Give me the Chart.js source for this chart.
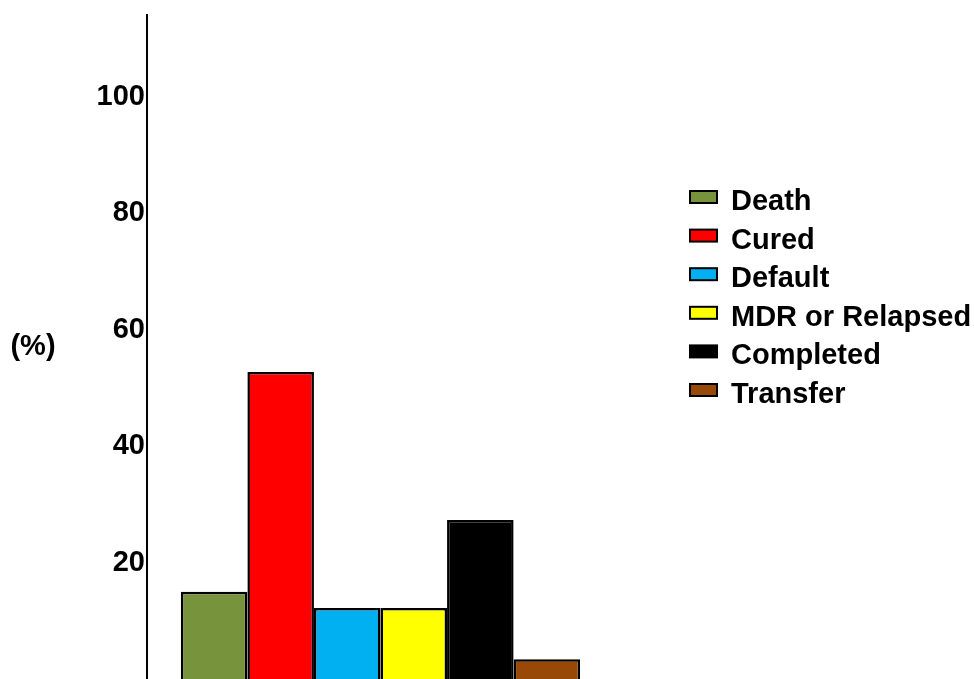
<!DOCTYPE html>
<html>
<head>
<meta charset="utf-8">
<title>Treatment outcomes</title>
<script src="https://cdn.jsdelivr.net/npm/chart.js@4/dist/chart.umd.min.js"></script>
<style>
  html, body { margin: 0; padding: 0; background: #ffffff; overflow: hidden; }
  #wrap { width: 974px; height: 679px; position: relative; }
  canvas { display: block; }
</style>
</head>
<body>
<div id="wrap"><canvas id="outcomeChart" width="974" height="679"></canvas></div>
<script>
// Treatment outcome categories and their share of patients (%)
const outcomes = ['Death', 'Cured', 'Default', 'MDR or Relapsed', 'Completed', 'Transfer'];
const percentages = [15, 52.7, 12.2, 12.2, 27.3, 3.4];
const outcomeColors = ['#77933C', '#FF0000', '#00B0F0', '#FFFF00', '#000000', '#984807'];
const yTicks = [20, 40, 60, 80, 100];
const yUnit = '(%)';

const FONT = '"Liberation Sans", Arial, sans-serif';

// One dataset per outcome so the bars sit side by side in a single group
const datasets = outcomes.map((name, i) => ({
  label: name,
  data: [percentages[i]],
  backgroundColor: outcomeColors[i],
  borderColor: '#000000',
  borderWidth: 2.5,
  categoryPercentage: 0.855,
  barPercentage: 1.0
}));

// Legend listing every outcome with a small framed colour swatch
const outcomeLegend = {
  id: 'outcomeLegend',
  afterDraw(chart, args, opts) {
    const { ctx, chartArea } = chart;
    ctx.save();
    ctx.font = 'bold ' + opts.fontSize + 'px ' + FONT;
    ctx.textAlign = 'left';
    ctx.textBaseline = 'alphabetic';
    chart.data.datasets.forEach((ds, i) => {
      const baseline = opts.firstBaseline + i * opts.step;
      const bx = chartArea.right + opts.offsetX;
      const by = baseline - opts.boxRise;
      ctx.fillStyle = ds.backgroundColor;
      ctx.fillRect(bx, by, opts.boxWidth, opts.boxHeight);
      ctx.lineWidth = 2;
      ctx.strokeStyle = '#000000';
      ctx.strokeRect(bx, by, opts.boxWidth, opts.boxHeight);
      ctx.fillStyle = '#000000';
      ctx.fillText(ds.label, bx + opts.boxWidth + opts.gap, baseline);
    });
    ctx.restore();
  }
};

// Horizontal unit label to the left of the value axis
const unitLabel = {
  id: 'unitLabel',
  afterDraw(chart, args, opts) {
    const { ctx } = chart;
    ctx.save();
    ctx.font = 'bold ' + opts.fontSize + 'px ' + FONT;
    ctx.fillStyle = '#000000';
    ctx.textAlign = 'center';
    ctx.textBaseline = 'middle';
    ctx.fillText(opts.text, opts.x, opts.y);
    ctx.restore();
  }
};

new Chart(document.getElementById('outcomeChart'), {
  type: 'bar',
  data: { labels: [''], datasets: datasets },
  options: {
    responsive: false,
    animation: false,
    layout: { padding: { top: 15, right: 360, bottom: 0, left: 0 } },
    plugins: {
      legend: { display: false },
      tooltip: { enabled: false },
      outcomeLegend: {
        fontSize: 29, firstBaseline: 210, step: 38.6,
        offsetX: 76, boxWidth: 27, boxHeight: 12, boxRise: 19, gap: 14
      },
      unitLabel: { text: yUnit, fontSize: 29, x: 33, y: 347 }
    },
    scales: {
      x: { display: false },
      y: {
        min: 0,
        max: 114,
        grid: { display: false, drawTicks: false },
        border: { display: true, color: '#000000', width: 2 },
        ticks: {
          color: '#000000',
          padding: 2,
          font: { family: FONT, size: 29, weight: 'bold' }
        },
        afterBuildTicks: (scale) => { scale.ticks = yTicks.map(v => ({ value: v })); },
        afterFit: (scale) => { scale.width = 147; scale.paddingTop = 0; scale.paddingBottom = 0; }
      }
    }
  },
  plugins: [outcomeLegend, unitLabel]
});
</script>
</body>
</html>
